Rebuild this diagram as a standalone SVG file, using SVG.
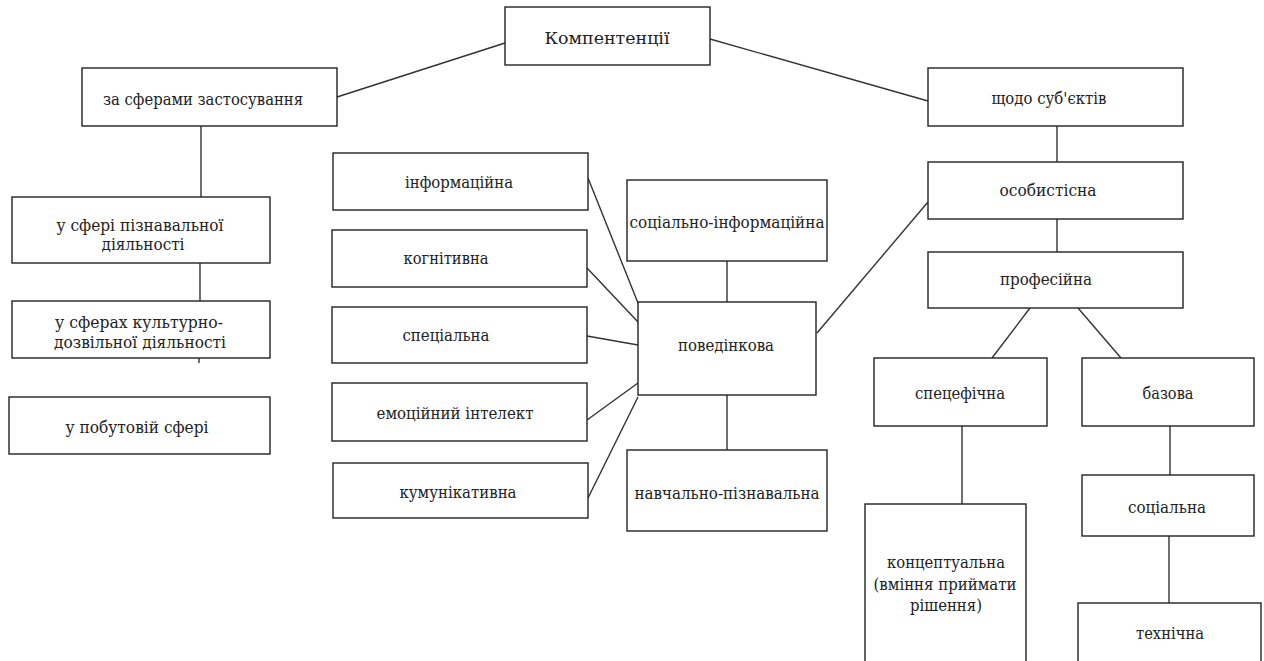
<svg xmlns="http://www.w3.org/2000/svg" width="1264" height="661" viewBox="0 0 1264 661">
<style>
.b{fill:#fff;stroke:#222;stroke-width:1.4}
.t{font-size:17px;fill:#222;text-anchor:middle}
.c line{stroke:#333;stroke-width:1.4}
</style>
<rect width="1264" height="661" fill="#fff"/>
<g class="c" id="connectors">
<line x1="505" y1="43" x2="337" y2="97"/>
<line x1="710" y1="39" x2="928" y2="101"/>
<line x1="201" y1="126" x2="201" y2="197"/>
<line x1="200" y1="263" x2="200" y2="301"/>
<line x1="199" y1="358" x2="199" y2="363"/>
<line x1="1057" y1="126" x2="1057" y2="162"/>
<line x1="1057" y1="219" x2="1057" y2="252"/>
<line x1="1030" y1="308" x2="992" y2="358"/>
<line x1="1078" y1="308" x2="1121" y2="358"/>
<line x1="962" y1="426" x2="962" y2="504"/>
<line x1="1170" y1="426" x2="1170" y2="475"/>
<line x1="1169" y1="536" x2="1169" y2="603"/>
<line x1="727" y1="261" x2="727" y2="302"/>
<line x1="727" y1="395" x2="727" y2="450"/>
<line x1="588" y1="178" x2="638" y2="303"/>
<line x1="587" y1="268" x2="638" y2="322"/>
<line x1="587" y1="336" x2="638" y2="345"/>
<line x1="587" y1="420" x2="638" y2="383"/>
<line x1="588" y1="498" x2="638" y2="397"/>
<line x1="817" y1="333" x2="928" y2="202"/>
</g>
<g font-family="'DejaVu Serif', 'Liberation Serif', serif">
<g id="n-komp"><rect class="b" x="505" y="7" width="205" height="58"/><text class="t" x="607" y="44" textLength="125" lengthAdjust="spacingAndGlyphs">Компентенції</text></g>
<g id="n-sfery"><rect class="b" x="82" y="68" width="255" height="58"/><text class="t" x="203" y="105" textLength="200" lengthAdjust="spacingAndGlyphs">за сферами застосування</text></g>
<g id="n-subj"><rect class="b" x="928" y="68" width="255" height="58"/><text class="t" x="1049" y="104" textLength="115" lengthAdjust="spacingAndGlyphs">щодо суб'єктів</text></g>
<g id="n-pizn"><rect class="b" x="12" y="197" width="258" height="66"/><text class="t" x="140" y="231" textLength="167" lengthAdjust="spacingAndGlyphs">у сфері пізнавальної</text><text class="t" x="143" y="250" textLength="83" lengthAdjust="spacingAndGlyphs">діяльності</text></g>
<g id="n-kult"><rect class="b" x="12" y="301" width="258" height="57"/><text class="t" x="139" y="328" textLength="168" lengthAdjust="spacingAndGlyphs">у сферах культурно-</text><text class="t" x="140" y="348" textLength="172" lengthAdjust="spacingAndGlyphs">дозвільної діяльності</text></g>
<g id="n-pobut"><rect class="b" x="9" y="397" width="261" height="57"/><text class="t" x="137" y="433" textLength="143" lengthAdjust="spacingAndGlyphs">у побутовій сфері</text></g>
<g id="n-inform"><rect class="b" x="333" y="153" width="255" height="57"/><text class="t" x="459" y="188" textLength="108" lengthAdjust="spacingAndGlyphs">інформаційна</text></g>
<g id="n-kogn"><rect class="b" x="332" y="230" width="255" height="57"/><text class="t" x="446" y="264" textLength="85" lengthAdjust="spacingAndGlyphs">когнітивна</text></g>
<g id="n-spec"><rect class="b" x="332" y="307" width="255" height="56"/><text class="t" x="446" y="341" textLength="87" lengthAdjust="spacingAndGlyphs">спеціальна</text></g>
<g id="n-emoc"><rect class="b" x="332" y="383" width="255" height="58"/><text class="t" x="455" y="419" textLength="157" lengthAdjust="spacingAndGlyphs">емоційний інтелект</text></g>
<g id="n-kum"><rect class="b" x="333" y="463" width="255" height="55"/><text class="t" x="458" y="498" textLength="117" lengthAdjust="spacingAndGlyphs">кумунікативна</text></g>
<g id="n-socinf"><rect class="b" x="627" y="180" width="200" height="81"/><text class="t" x="727" y="228" textLength="195" lengthAdjust="spacingAndGlyphs">соціально-інформаційна</text></g>
<g id="n-poved"><rect class="b" x="638" y="302" width="178" height="93"/><text class="t" x="726" y="351" textLength="96" lengthAdjust="spacingAndGlyphs">поведінкова</text></g>
<g id="n-navch"><rect class="b" x="627" y="450" width="200" height="81"/><text class="t" x="727" y="499" textLength="185" lengthAdjust="spacingAndGlyphs">навчально-пізнавальна</text></g>
<g id="n-osob"><rect class="b" x="928" y="162" width="255" height="57"/><text class="t" x="1048" y="196" textLength="97" lengthAdjust="spacingAndGlyphs">особистісна</text></g>
<g id="n-prof"><rect class="b" x="928" y="252" width="255" height="56"/><text class="t" x="1046" y="285" textLength="92" lengthAdjust="spacingAndGlyphs">професійна</text></g>
<g id="n-specef"><rect class="b" x="874" y="358" width="173" height="68"/><text class="t" x="960" y="399" textLength="90" lengthAdjust="spacingAndGlyphs">спецефічна</text></g>
<g id="n-baz"><rect class="b" x="1082" y="358" width="172" height="68"/><text class="t" x="1168" y="399" textLength="51" lengthAdjust="spacingAndGlyphs">базова</text></g>
<g id="n-konc"><rect class="b" x="865" y="504" width="161" height="160"/><text class="t" x="946" y="568" textLength="118" lengthAdjust="spacingAndGlyphs">концептуальна</text><text class="t" x="945" y="590" textLength="143" lengthAdjust="spacingAndGlyphs">(вміння приймати</text><text class="t" x="946" y="611" textLength="72" lengthAdjust="spacingAndGlyphs">рішення)</text></g>
<g id="n-soc"><rect class="b" x="1082" y="475" width="172" height="61"/><text class="t" x="1167" y="513" textLength="78" lengthAdjust="spacingAndGlyphs">соціальна</text></g>
<g id="n-tech"><rect class="b" x="1078" y="603" width="183" height="61"/><text class="t" x="1170" y="639" textLength="68" lengthAdjust="spacingAndGlyphs">технічна</text></g>
</g>
</svg>
